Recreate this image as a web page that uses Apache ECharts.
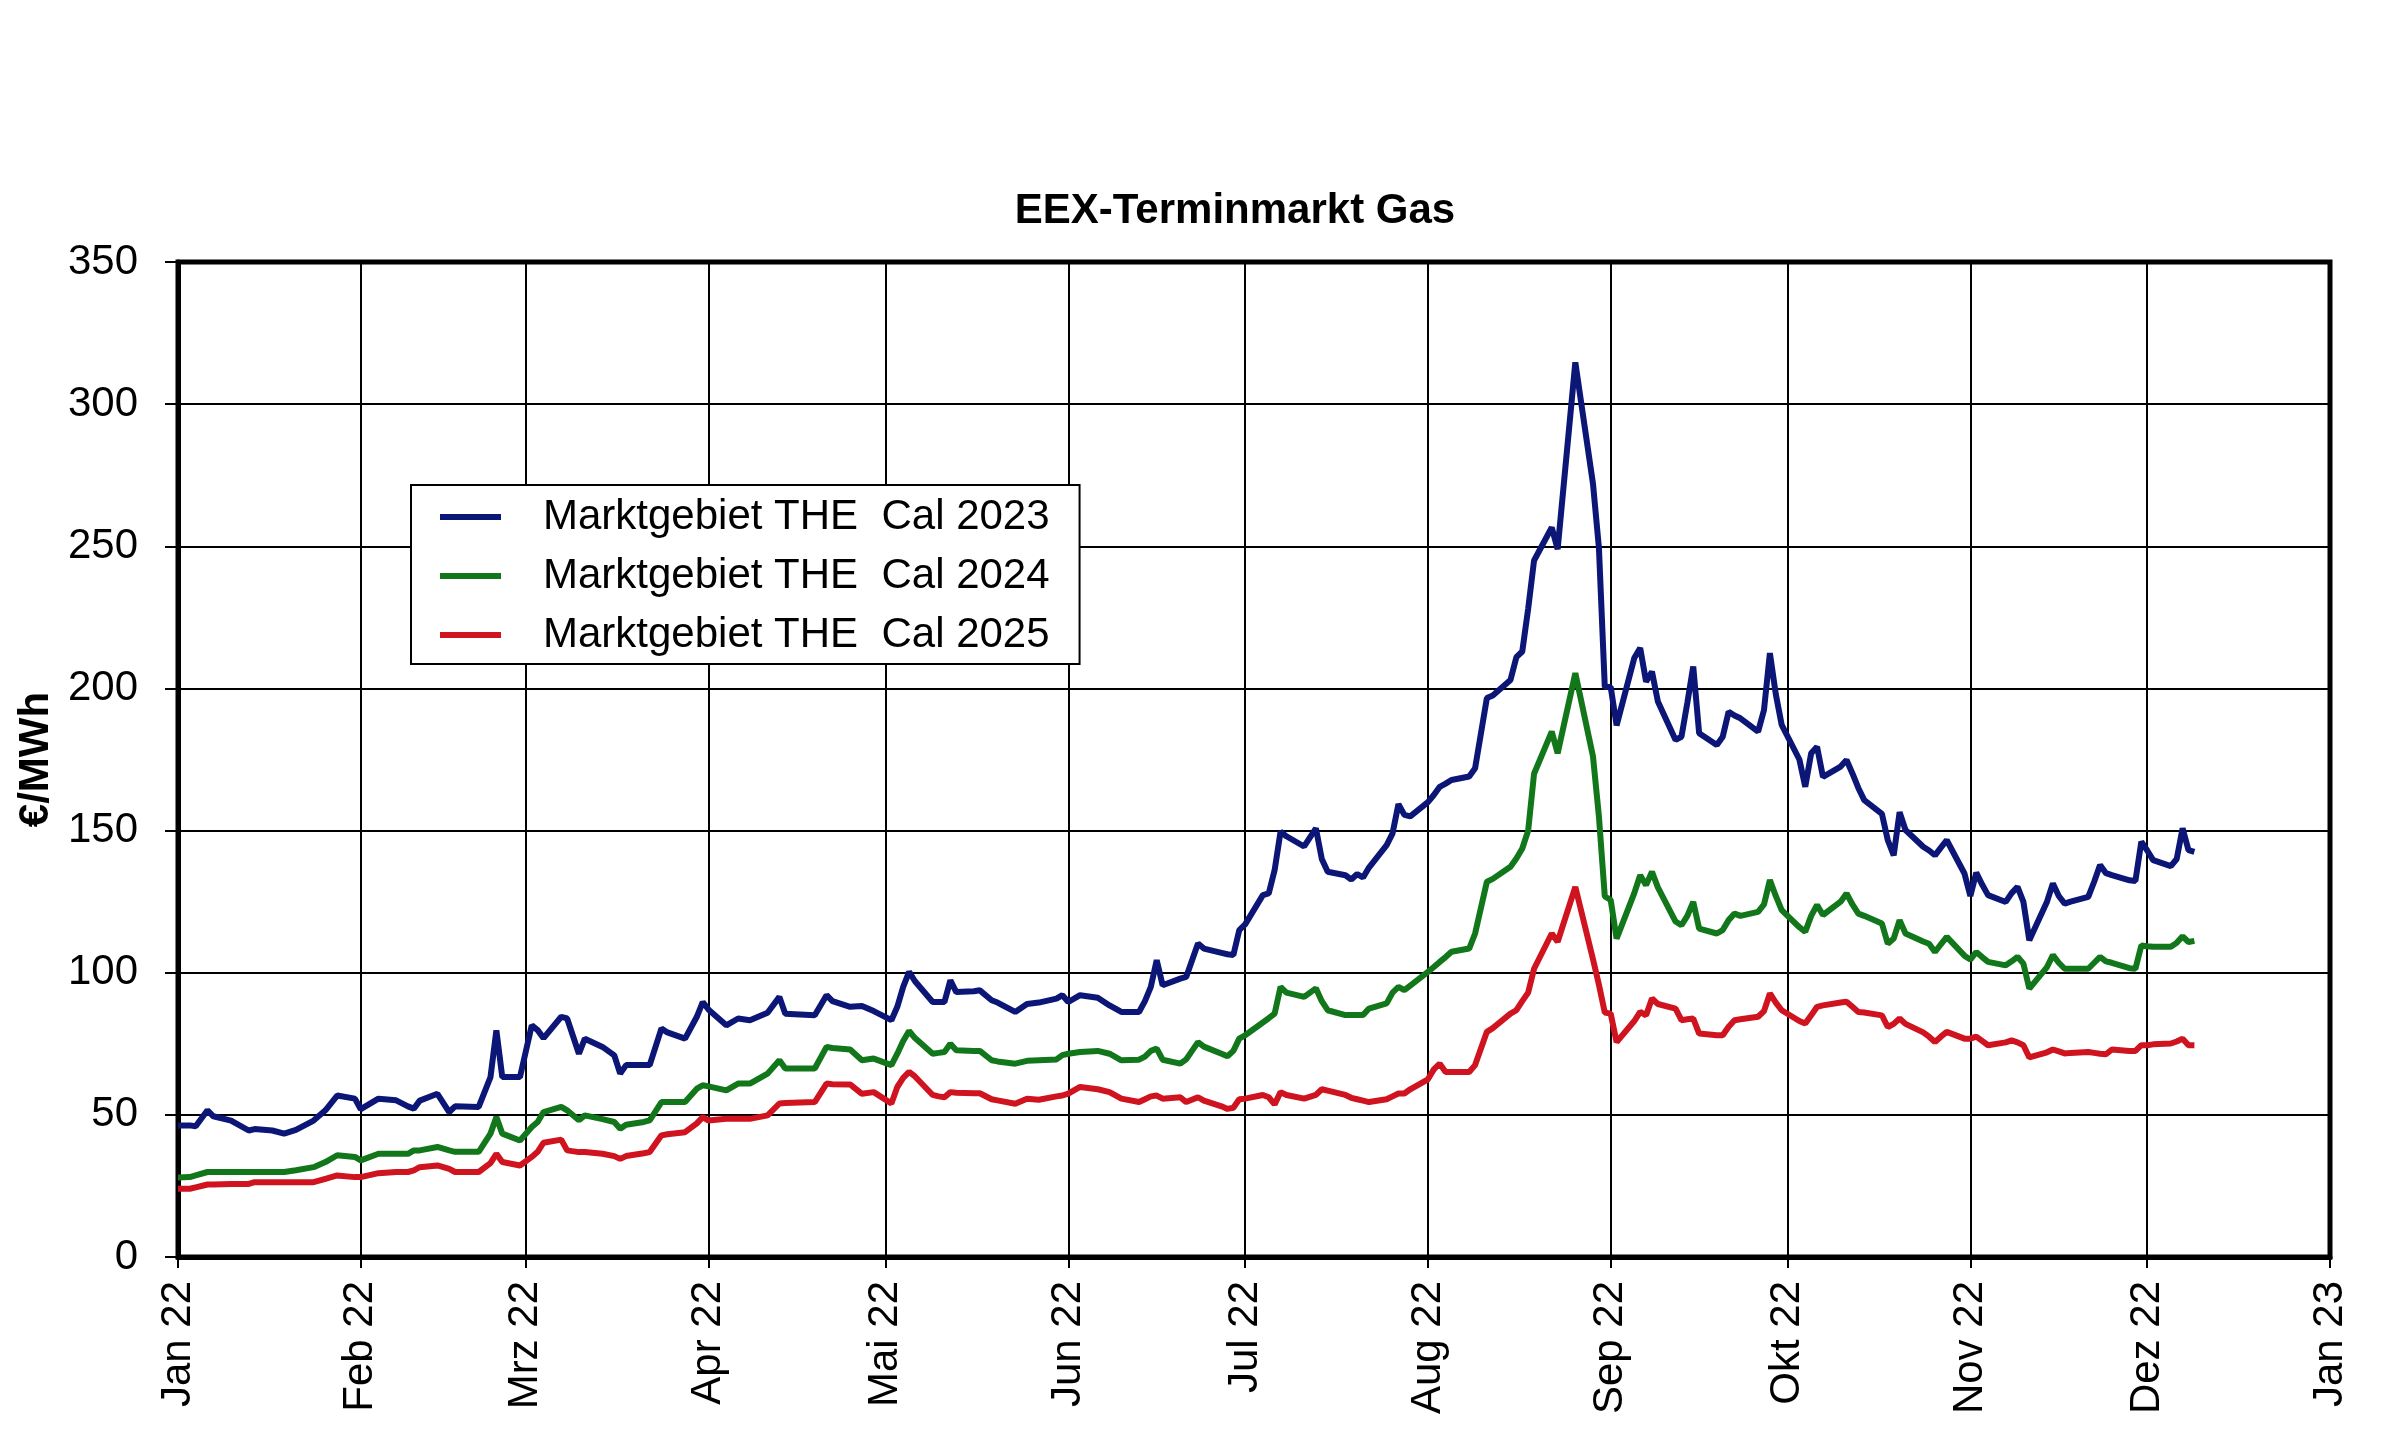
<!DOCTYPE html>
<html>
<head>
<meta charset="utf-8">
<title>EEX-Terminmarkt Gas</title>
<script src="https://cdn.jsdelivr.net/npm/echarts@6/dist/echarts.min.js"></script>
<style>
    html, body { margin: 0; padding: 0; background: #fff; }
    #chart { width: 2400px; height: 1438px; }
</style>
</head>
<body>
<div id="chart"></div>
<script>
// Handelstage 2022
var dates = [
    '2022-01-01', '2022-01-03', '2022-01-04', '2022-01-06', '2022-01-07', '2022-01-10', '2022-01-13', '2022-01-14',
    '2022-01-17', '2022-01-19', '2022-01-21', '2022-01-24', '2022-01-26', '2022-01-28', '2022-01-31',
    '2022-02-01', '2022-02-04', '2022-02-07', '2022-02-09', '2022-02-10', '2022-02-11', '2022-02-14', '2022-02-16',
    '2022-02-17', '2022-02-21', '2022-02-23', '2022-02-24', '2022-02-25', '2022-02-28',
    '2022-03-02', '2022-03-03', '2022-03-04', '2022-03-07', '2022-03-08', '2022-03-10', '2022-03-11', '2022-03-14',
    '2022-03-16', '2022-03-17', '2022-03-18', '2022-03-21', '2022-03-22', '2022-03-24', '2022-03-25', '2022-03-28',
    '2022-03-30', '2022-03-31',
    '2022-04-01', '2022-04-04', '2022-04-06', '2022-04-08', '2022-04-11', '2022-04-13', '2022-04-14', '2022-04-19',
    '2022-04-21', '2022-04-22', '2022-04-25', '2022-04-27', '2022-04-29',
    '2022-05-02', '2022-05-03', '2022-05-04', '2022-05-05', '2022-05-06', '2022-05-09', '2022-05-10', '2022-05-11',
    '2022-05-12', '2022-05-13', '2022-05-16', '2022-05-17', '2022-05-19', '2022-05-20', '2022-05-23', '2022-05-25',
    '2022-05-27', '2022-05-30', '2022-05-31',
    '2022-06-01', '2022-06-03', '2022-06-06', '2022-06-08', '2022-06-10', '2022-06-13', '2022-06-14', '2022-06-15',
    '2022-06-16', '2022-06-17', '2022-06-20', '2022-06-21', '2022-06-23', '2022-06-24', '2022-06-27', '2022-06-28',
    '2022-06-29', '2022-06-30',
    '2022-07-01', '2022-07-04', '2022-07-05', '2022-07-06', '2022-07-07', '2022-07-08', '2022-07-11', '2022-07-13',
    '2022-07-14', '2022-07-15', '2022-07-18', '2022-07-19', '2022-07-20', '2022-07-21', '2022-07-22', '2022-07-25',
    '2022-07-26', '2022-07-27', '2022-07-28', '2022-07-29',
    '2022-08-01', '2022-08-02', '2022-08-03', '2022-08-04', '2022-08-05', '2022-08-08', '2022-08-09', '2022-08-11',
    '2022-08-12', '2022-08-15', '2022-08-16', '2022-08-17', '2022-08-18', '2022-08-19', '2022-08-22', '2022-08-23',
    '2022-08-26', '2022-08-29', '2022-08-30', '2022-08-31',
    '2022-09-01', '2022-09-02', '2022-09-05', '2022-09-06', '2022-09-07', '2022-09-08', '2022-09-09', '2022-09-12',
    '2022-09-13', '2022-09-14', '2022-09-15', '2022-09-16', '2022-09-19', '2022-09-20', '2022-09-21', '2022-09-22',
    '2022-09-23', '2022-09-26', '2022-09-27', '2022-09-28', '2022-09-29', '2022-09-30',
    '2022-10-03', '2022-10-04', '2022-10-05', '2022-10-06', '2022-10-07', '2022-10-10', '2022-10-11', '2022-10-12',
    '2022-10-13', '2022-10-14', '2022-10-17', '2022-10-18', '2022-10-19', '2022-10-20', '2022-10-21', '2022-10-24',
    '2022-10-25', '2022-10-26', '2022-10-27', '2022-10-28', '2022-10-31',
    '2022-11-01', '2022-11-02', '2022-11-03', '2022-11-04', '2022-11-07', '2022-11-08', '2022-11-09', '2022-11-10',
    '2022-11-11', '2022-11-14', '2022-11-15', '2022-11-16', '2022-11-17', '2022-11-18', '2022-11-21', '2022-11-22',
    '2022-11-23', '2022-11-24', '2022-11-25', '2022-11-28', '2022-11-29', '2022-11-30',
    '2022-12-01', '2022-12-02', '2022-12-05', '2022-12-06', '2022-12-07', '2022-12-08', '2022-12-09'
];

// Marktgebiet THE Cal 2023 (€/MWh)
var cal2023 = [
    46.3, 46.3, 46.0, 51.6, 49.5, 48.0, 44.5, 45.0, 44.5, 43.4, 44.7, 48.0, 51.6, 56.8, 55.7,
    52.0, 55.7, 55.1, 53.0, 52.2, 55.0, 57.4, 51.0, 53.0, 52.8, 63.3, 79.7, 63.3, 63.3,
    81.5, 79.8, 77.0, 84.5, 83.9, 71.5, 76.8, 73.9, 70.9, 64.5, 67.5, 67.5, 67.5, 80.4, 79.0, 76.8, 84.5, 89.7,
    87.0, 81.5, 83.9, 83.3, 85.9, 91.5, 85.6, 85.0, 92.1, 90.0, 88.0, 88.3, 86.5,
    83.3, 88.0, 95.0, 100.3, 97.0, 89.7, 89.7, 89.7, 97.3, 93.2, 93.5, 93.8, 90.3, 89.5, 86.2, 89.0, 89.5, 90.9, 92.1,
    89.7, 92.1, 91.2, 88.5, 86.2, 86.2, 90.0, 95.0, 104.4, 95.6, 97.9, 98.5, 110.3, 108.5, 107.0, 106.5, 106.2, 115.0,
    117.0, 127.3, 127.9, 136.1, 149.6, 148.0, 144.4, 150.8, 140.0, 135.5, 134.3, 132.8, 134.7, 133.5, 137.0, 144.9,
    149.0, 159.3, 155.5, 155.0,
    160.0, 162.5, 165.4, 166.5, 167.8, 169.0, 171.9, 196.6, 197.5, 203.0, 211.0, 213.0, 228.0, 245.0, 256.6, 249.0,
    314.7, 271.9, 249.5, 200.5,
    200.5, 187.0, 210.7, 214.2, 202.4, 205.9, 195.4, 181.9, 183.0, 195.0, 207.7, 184.2, 180.1, 183.0, 191.8, 190.5,
    189.5, 184.8, 192.4, 212.4, 198.0, 187.2,
    175.0, 165.4, 177.2, 179.5, 168.9, 172.5, 174.8, 170.1, 165.0, 160.7, 155.9, 146.6, 141.3, 156.5, 150.2, 144.3,
    143.0, 141.3, 144.0, 146.6, 134.9,
    127.0, 135.2, 131.0, 127.3, 124.9, 128.0, 130.2, 124.9, 111.4, 125.0, 131.4, 127.0, 124.3, 125.0, 126.7, 132.0,
    137.9, 135.0, 134.3, 132.5, 132.3, 146.1,
    143.0, 139.6, 137.5, 140.0, 150.8, 143.1, 142.5
];

// Marktgebiet THE Cal 2024 (€/MWh)
var cal2024 = [
    28.0, 28.1, 28.7, 29.9, 29.9, 29.9, 29.9, 29.9, 29.9, 29.9, 30.5, 31.6, 33.4, 35.8, 35.2,
    34.0, 36.3, 36.3, 36.3, 37.5, 37.5, 38.7, 37.5, 37.0, 37.0, 43.4, 49.2, 43.4, 41.0,
    45.7, 47.5, 51.0, 52.8, 51.6, 48.1, 49.8, 48.5, 47.5, 45.1, 46.5, 47.5, 48.1, 54.5, 54.5, 54.5, 59.2, 60.4,
    60.0, 58.6, 61.0, 61.0, 64.5, 69.2, 66.3, 66.3, 73.9, 73.5, 73.0, 69.2, 69.8,
    67.5, 71.5, 76.0, 79.5, 77.0, 71.5, 71.8, 72.1, 75.0, 72.7, 72.5, 72.5, 69.2, 68.8, 68.0, 69.0, 69.2, 69.5, 71.0,
    71.5, 72.1, 72.5, 71.5, 69.2, 69.4, 70.5, 72.5, 73.3, 69.4, 68.0, 69.5, 75.6, 74.0, 71.5, 70.6, 72.5, 76.8,
    78.0, 82.5, 84.0, 85.6, 95.0, 93.0, 91.5, 94.5, 90.0, 86.8, 85.1, 85.1, 85.1, 85.1, 87.4, 89.2,
    93.0, 95.0, 93.9, 95.5,
    100.3, 102.0, 103.8, 105.5, 107.4, 108.5, 113.8, 132.0, 133.0, 137.3, 140.2, 143.7, 150.0, 170.0, 184.8, 177.2,
    205.4, 176.0, 155.0, 126.8,
    125.6, 112.0, 128.0, 134.3, 130.8, 135.5, 130.0, 118.0, 116.7, 120.0, 124.9, 115.5, 113.8, 115.0, 118.5, 120.8,
    120.0, 121.4, 124.0, 132.6, 127.0, 122.0,
    116.0, 114.4, 120.0, 123.8, 120.3, 125.0, 127.9, 124.0, 120.8, 120.0, 117.3, 110.2, 112.0, 118.5, 113.8, 111.0,
    110.2, 107.3, 110.0, 112.6, 106.0,
    104.6, 107.3, 105.5, 103.8, 102.6, 104.0, 105.6, 103.2, 94.4, 102.0, 106.2, 103.5, 101.4, 101.4, 101.4, 103.5,
    105.6, 104.0, 103.5, 101.6, 101.4, 109.6,
    109.3, 109.1, 109.1, 110.5, 112.8, 110.8, 111.2
];

// Marktgebiet THE Cal 2025 (€/MWh)
var cal2025 = [
    24.0, 24.0, 24.5, 25.5, 25.5, 25.7, 25.7, 26.3, 26.3, 26.3, 26.3, 26.3, 27.5, 28.7, 28.1,
    28.1, 29.5, 29.9, 29.9, 30.5, 31.6, 32.2, 31.0, 29.9, 29.9, 33.0, 36.3, 33.4, 32.2,
    35.2, 37.0, 40.2, 41.3, 37.5, 36.9, 36.9, 36.3, 35.5, 34.5, 35.5, 36.5, 36.9, 42.8, 43.2, 43.9, 47.0, 49.2,
    48.0, 48.6, 48.6, 48.6, 49.8, 54.0, 54.2, 54.5, 61.0, 60.8, 60.7, 57.4, 58.0,
    54.0, 59.8, 63.0, 65.1, 63.5, 57.0, 56.5, 56.2, 58.0, 57.8, 57.6, 57.6, 55.5, 55.1, 53.9, 55.7, 55.3, 56.5, 56.8,
    57.5, 59.8, 59.0, 58.0, 55.7, 54.5, 55.5, 56.5, 56.8, 55.7, 56.2, 54.5, 56.2, 55.0, 53.0, 52.1, 52.5, 55.5,
    55.7, 57.0, 56.2, 53.7, 58.0, 57.0, 55.7, 57.0, 59.0, 58.5, 57.0, 56.0, 55.5, 55.0, 54.5, 55.5,
    56.5, 57.5, 57.5, 59.0,
    62.5, 66.0, 68.0, 65.1, 65.1, 65.1, 67.5, 79.2, 80.5, 85.6, 86.8, 90.0, 93.0, 101.4, 113.8, 110.9,
    130.2, 104.7, 95.8, 86.0,
    85.6, 75.6, 83.0, 86.2, 85.0, 90.9, 89.0, 87.4, 83.3, 83.6, 83.9, 78.6, 78.0, 78.0, 81.0, 83.3,
    83.6, 84.5, 86.5, 92.7, 89.5, 86.8,
    83.0, 82.1, 85.0, 88.0, 88.5, 89.5, 89.8, 88.0, 86.2, 86.0, 85.0, 80.9, 82.0, 83.9, 82.0, 79.0,
    77.5, 75.6, 77.5, 79.2, 76.8,
    76.8, 77.5, 76.0, 74.5, 75.5, 76.2, 75.5, 74.5, 70.2, 72.0, 73.0, 72.3, 71.6, 71.8, 72.1, 71.8,
    71.5, 71.3, 73.0, 72.5, 72.5, 74.5,
    74.5, 74.8, 75.1, 75.8, 76.8, 74.5, 74.5
];

var seriesNames = ['Marktgebiet THE  Cal 2023', 'Marktgebiet THE  Cal 2024', 'Marktgebiet THE  Cal 2025'];
var monthLabels = ['Jan', 'Feb', 'Mrz', 'Apr', 'Mai', 'Jun', 'Jul', 'Aug', 'Sep', 'Okt', 'Nov', 'Dez'];
var yTicks = [0, 50, 100, 150, 200, 250, 300, 350];

(function () {
    var chart = echarts.init(document.getElementById('chart'));

    function pairs(values) {
        return dates.map(function (d, i) { return [d, values[i]]; });
    }

    function lineSeries(name, values, color) {
        return {
            name: name,
            type: 'line',
            data: pairs(values),
            showSymbol: false,
            symbol: 'none',
            lineStyle: { color: color, width: 6 },
            itemStyle: { color: color },
            z: 3
        };
    }

    var option = {
        animation: false,
        backgroundColor: '#fff',
        textStyle: { fontFamily: 'Liberation Sans', color: '#000' },
        title: {
            text: 'EEX-Terminmarkt Gas',
            left: 1235,
            top: 190,
            textAlign: 'center',
            padding: 0,
            textStyle: { fontSize: 42, fontWeight: 'bold', color: '#000', fontFamily: 'Liberation Sans' }
        },
        legend: {
            orient: 'vertical',
            left: 411,
            top: 485,
            data: seriesNames,
            icon: 'rect',
            itemWidth: 61,
            itemHeight: 6,
            itemGap: 17,
            backgroundColor: '#fff',
            borderColor: '#000',
            borderWidth: 2,
            padding: [11, 30, 8, 29],
            textStyle: { fontSize: 42, lineHeight: 42, color: '#000', padding: [0, 0, 0, 37] }
        },
        grid: {
            left: 178,
            right: 70,
            top: 262,
            bottom: 181,
            show: true,
            borderColor: '#000',
            borderWidth: 5,
            containLabel: false
        },
        xAxis: {
            type: 'time',
            min: '2022-01-01',
            max: '2023-01-01',
            splitNumber: 12,
            minInterval: 28 * 86400000,
            maxInterval: 31 * 86400000,
            axisLine: { show: true, lineStyle: { color: '#000', width: 5 } },
            axisTick: { show: true, length: 11, lineStyle: { color: '#000', width: 2 } },
            splitLine: { show: true, lineStyle: { color: '#000', width: 2 } },
            axisLabel: {
                rotate: 90,
                margin: 24,
                fontSize: 42,
                color: '#000',
                showMinLabel: true,
                showMaxLabel: true,
                formatter: function (value) {
                    var d = new Date(value);
                    return monthLabels[d.getMonth()] + ' ' + String(d.getFullYear()).slice(2);
                }
            }
        },
        yAxis: {
            type: 'value',
            min: yTicks[0],
            max: yTicks[yTicks.length - 1],
            interval: 50,
            name: '€/MWh',
            nameLocation: 'middle',
            nameGap: 118,
            nameTextStyle: { fontSize: 42, fontWeight: 'bold', color: '#000' },
            axisLine: { show: true, lineStyle: { color: '#000', width: 5 } },
            axisTick: { show: true, length: 13, lineStyle: { color: '#000', width: 2 } },
            splitLine: { show: true, lineStyle: { color: '#000', width: 2 } },
            axisLabel: { fontSize: 42, color: '#000', margin: 40 }
        },
        series: [
            lineSeries(seriesNames[0], cal2023, '#0b1677'),
            lineSeries(seriesNames[1], cal2024, '#12771a'),
            lineSeries(seriesNames[2], cal2025, '#cf1420')
        ]
    };

    chart.setOption(option);
    window.addEventListener('resize', function () {
        chart.resize();
    });
})();
</script>
</body>
</html>
